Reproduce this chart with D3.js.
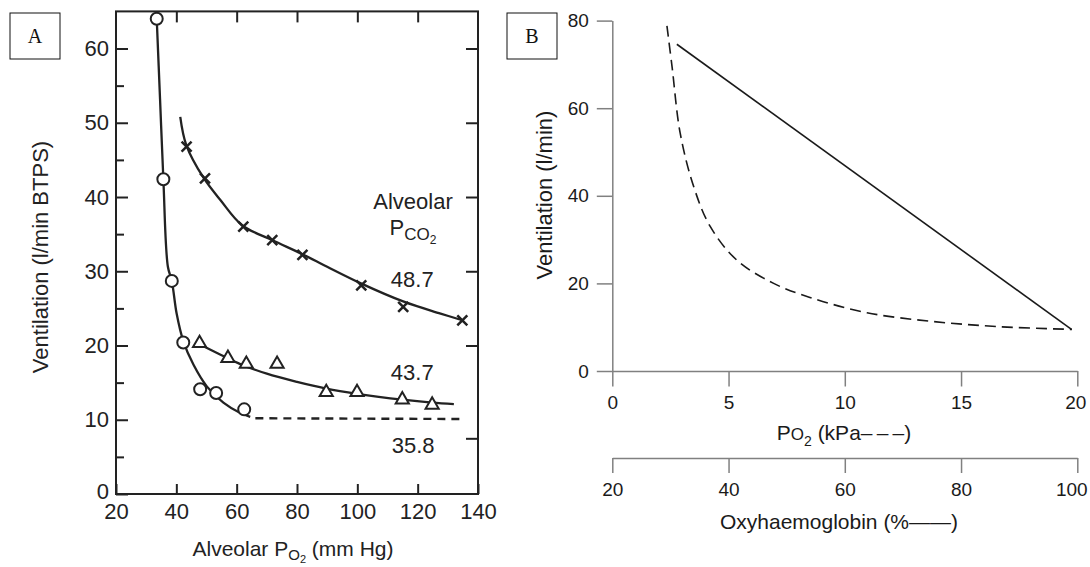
<!DOCTYPE html>
<html>
<head>
<meta charset="utf-8">
<script src="https://cdn.jsdelivr.net/npm/d3@7"></script>
<style>
  body { margin: 0; background: #fff; }
  svg { display: block; font-family: "Liberation Sans", Arial, Helvetica, sans-serif; }
</style>
</head>
<body>
<script>
'use strict';

// ---- panel A data : ventilation vs alveolar PO2 at three alveolar PCO2 levels
var aXTicks = [20, 40, 60, 80, 100, 120, 140];
var aYTicks = [0, 10, 20, 30, 40, 50, 60];
var aYMinor = [5, 15, 25, 35, 45, 55];
var aRightTicks = [60, 50, 40, 30, 20, 7.5];

// PCO2 48.7 (crosses)
var crossPoints = [[43.4, 46.8], [49.5, 42.5], [62.2, 36.0], [71.8, 34.2], [81.8, 32.2],
                   [101.3, 28.1], [115.2, 25.2], [134.8, 23.4]];
var crossCurve = [[41.3, 50.8], [43.3, 47.0], [49, 42.6], [54.6, 39.6], [61.8, 36.2],
                  [71.7, 34.2], [81.8, 32.3], [90, 30.6], [101, 28.4], [115.4, 25.9],
                  [127.6, 24.3], [134.8, 23.4]];
// PCO2 43.7 (triangles)
var trianglePoints = [[47.7, 20.3], [57.1, 18.3], [63.2, 17.5], [73.4, 17.5], [89.7, 13.7],
                      [99.9, 13.7], [114.9, 12.7], [124.8, 12.0]];
var triangleCurve = [[48.5, 20.0], [55, 18.7], [61.2, 17.5], [70, 16.2], [80, 15.1],
                     [89.7, 14.2], [99.9, 13.5], [114.9, 12.7], [124.8, 12.3], [132, 12.1]];
// PCO2 35.8 (circles)
var circlePoints = [[33.5, 64], [35.7, 42.4], [38.5, 28.7], [42.3, 20.4], [47.9, 14.1],
                    [53.2, 13.6], [62.5, 11.4]];
var circleCurve = [[33.5, 64], [34.6, 53.2], [35.7, 42.4], [37.2, 30.6], [38.5, 28.7],
                   [40.1, 24.3], [42.3, 20.6], [45.7, 17.4], [50.1, 14.5], [55.6, 12.3],
                   [61.2, 10.9], [64.5, 10.4]];
var circlePlateau = [[66.2, 10.2], [135.3, 10.1]];
var co2Labels = ["48.7", "43.7", "35.8"];
var co2LabelAt = [[118.2, 27.9], [118.2, 15.3], [118.5, 5.5]]; // [PO2, ventilation] where text sits

// ---- panel B data : ventilation vs PO2 (kPa, dashed) and oxyhaemoglobin (%, solid)
var bYTicks = [0, 20, 40, 60, 80];
var kpaTicks = [0, 5, 10, 15, 20];
var satTicks = [20, 40, 60, 80, 100];
var kpaCurve = [[2.35, 78.8], [2.57, 69.5], [2.92, 54.3], [3.5, 42.1], [4.21, 33.0],
                [5.36, 25.3], [6.94, 20.0], [8.5, 16.8], [10.95, 13.3], [13.8, 11.3],
                [16.7, 10.1], [19.77, 9.5]];
var satLine = [[31.1, 74.6], [99.0, 9.5]];

var svg = d3.select("body").append("svg")
    .attr("width", 1090)
    .attr("height", 567);

var ink = "#222";

// label boxes
function panelBox(x, letter) {
  svg.append("rect")
      .attr("x", x).attr("y", 13)
      .attr("width", 50).attr("height", 46)
      .attr("fill", "#fff").attr("stroke", "#111").attr("stroke-width", 1);
  svg.append("text")
      .attr("x", x + 25).attr("y", 43)
      .attr("text-anchor", "middle")
      .style("font-family", "'Liberation Serif', 'Times New Roman', serif")
      .style("font-size", "20px")
      .attr("fill", "#111")
      .text(letter);
}
panelBox(10, "A");
panelBox(507, "B");

// ================= panel A =================
var ax = d3.scaleLinear().domain([20, 140]).range([116, 478]);
var ay = d3.scaleLinear().domain([0, 65]).range([494, 11.4]);

var gA = svg.append("g");

function styleAxis(g, col, w) {
  g.select(".domain").remove();
  g.selectAll(".tick line").attr("stroke", col).attr("stroke-width", w);
  g.selectAll(".tick text").attr("fill", ink);
}

var aLeft = gA.append("g").attr("transform", "translate(" + ax(20) + ",0)")
    .call(d3.axisLeft(ay).tickValues(aYTicks).tickSize(-12).tickPadding(7).tickFormat(d3.format("d")));
styleAxis(aLeft, ink, 2);
aLeft.selectAll("text").style("font-size", "22px");
// the "0" label sits a little higher so it clears the "20" below it
aLeft.selectAll(".tick text").filter(function(d) { return d === 0; }).attr("dy", "0.2em");

var aLeftMinor = gA.append("g").attr("transform", "translate(" + ax(20) + ",0)")
    .call(d3.axisLeft(ay).tickValues(aYMinor).tickSize(-8).tickFormat(""));
styleAxis(aLeftMinor, ink, 2);

var aRight = gA.append("g").attr("transform", "translate(" + ax(140) + ",0)")
    .call(d3.axisRight(ay).tickValues(aRightTicks).tickSize(-12).tickFormat(""));
styleAxis(aRight, ink, 2);

var aBottom = gA.append("g").attr("transform", "translate(0," + ay(0) + ")")
    .call(d3.axisBottom(ax).tickValues(aXTicks).tickSize(-10).tickPadding(9).tickFormat(d3.format("d")));
styleAxis(aBottom, ink, 2);
aBottom.selectAll("text").style("font-size", "22px");

var aTop = gA.append("g").attr("transform", "translate(0," + ay(65) + ")")
    .call(d3.axisTop(ax).tickValues(aXTicks.slice(1, -1)).tickSize(-11).tickFormat(""));
styleAxis(aTop, ink, 2);

// frame
gA.append("rect")
    .attr("x", ax(20)).attr("y", ay(65))
    .attr("width", ax(140) - ax(20)).attr("height", ay(0) - ay(65))
    .attr("fill", "none").attr("stroke", ink).attr("stroke-width", 2);

var aLine = d3.line()
    .x(function(d) { return ax(d[0]); })
    .y(function(d) { return ay(d[1]); })
    .curve(d3.curveCatmullRom.alpha(0.5));

[crossCurve, triangleCurve, circleCurve].forEach(function(c) {
  gA.append("path").datum(c)
      .attr("d", aLine)
      .attr("fill", "none").attr("stroke", ink).attr("stroke-width", 2.3);
});
gA.append("path").datum(circlePlateau)
    .attr("d", aLine)
    .attr("fill", "none").attr("stroke", ink).attr("stroke-width", 2.4)
    .attr("stroke-dasharray", "8,6");

// markers
gA.selectAll(".cross")
    .data(crossPoints)
  .enter().append("path")
    .attr("class", "cross")
    .attr("transform", function(d) { return "translate(" + ax(d[0]) + "," + ay(d[1]) + ")"; })
    .attr("d", "M-5,-5L5,5M-5,5L5,-5")
    .attr("stroke", ink).attr("stroke-width", 2.5);

gA.selectAll(".tri")
    .data(trianglePoints)
  .enter().append("path")
    .attr("class", "tri")
    .attr("transform", function(d) { return "translate(" + ax(d[0]) + "," + ay(d[1]) + ")"; })
    .attr("d", d3.symbol().type(d3.symbolTriangle).size(75))
    .attr("fill", "#fff").attr("stroke", ink).attr("stroke-width", 2);

gA.selectAll(".circ")
    .data(circlePoints)
  .enter().append("circle")
    .attr("class", "circ")
    .attr("cx", function(d) { return ax(d[0]); })
    .attr("cy", function(d) { return ay(d[1]); })
    .attr("r", 6)
    .attr("fill", "#fff").attr("stroke", ink).attr("stroke-width", 2);

// legend text inside panel A
var legA = gA.append("g").attr("fill", ink).style("font-size", "22px").attr("text-anchor", "middle");
legA.append("text").attr("x", 413).attr("y", 209).text("Alveolar");
var pco2 = legA.append("text").attr("x", 413).attr("y", 235);
pco2.append("tspan").text("P");
pco2.append("tspan").attr("dy", 5).style("font-size", "17px").text("CO");
pco2.append("tspan").attr("dy", 4).style("font-size", "12px").text("2");
legA.selectAll(".co2")
    .data(co2Labels)
  .enter().append("text")
    .attr("class", "co2")
    .attr("x", function(d, i) { return ax(co2LabelAt[i][0]); })
    .attr("y", function(d, i) { return ay(co2LabelAt[i][1]); })
    .text(function(d) { return d; });

// axis titles panel A
var aXTitle = gA.append("text")
    .attr("x", 293).attr("y", 556)
    .attr("text-anchor", "middle")
    .attr("fill", ink).style("font-size", "21px");
aXTitle.append("tspan").text("Alveolar P");
aXTitle.append("tspan").attr("dy", 4).style("font-size", "15px").text("O");
aXTitle.append("tspan").attr("dy", 3).style("font-size", "11px").text("2");
aXTitle.append("tspan").attr("dy", -7).text(" (mm Hg)");

gA.append("text")
    .attr("transform", "translate(48,257) rotate(-90)")
    .attr("text-anchor", "middle")
    .attr("fill", ink).style("font-size", "22px")
    .text("Ventilation (l/min BTPS)");

// ================= panel B =================
var bxK = d3.scaleLinear().domain([0, 20]).range([612.3, 1077.3]);
var bxS = d3.scaleLinear().domain([20, 100]).range([612.3, 1077.3]);
var by = d3.scaleLinear().domain([0, 80]).range([371, 20.6]);

var gB = svg.append("g");
var axisCol = "#808080";

function styleB(g) {
  g.select(".domain").attr("stroke", axisCol).attr("stroke-width", 1.5);
  g.selectAll(".tick line").attr("stroke", axisCol).attr("stroke-width", 1.5);
  g.selectAll(".tick text").attr("fill", "#1a1a1a").style("font-size", "19px")
      .style("font-family", "'Liberation Sans', Arial, sans-serif");
}

var bLeft = gB.append("g").attr("transform", "translate(" + bxK(0) + ",0)")
    .call(d3.axisLeft(by).tickValues(bYTicks).tickSize(15.5).tickSizeOuter(0).tickPadding(8));
styleB(bLeft);

var bBottom = gB.append("g").attr("transform", "translate(0," + by(0) + ")")
    .call(d3.axisBottom(bxK).tickValues(kpaTicks).tickSize(15.5).tickSizeOuter(0).tickPadding(9));
styleB(bBottom);

var bSat = gB.append("g").attr("transform", "translate(0,458)")
    .call(d3.axisBottom(bxS).tickValues(satTicks).tickSize(15).tickSizeOuter(0).tickPadding(10));
styleB(bSat);
// last labels sit a little inside the right edge, as in the source figure
bBottom.selectAll(".tick text").filter(function(d) { return d === 20; }).attr("dx", -2);
bSat.selectAll(".tick text").filter(function(d) { return d === 100; }).attr("dx", -6);

var bLine = d3.line()
    .x(function(d) { return bxK(d[0]); })
    .y(function(d) { return by(d[1]); })
    .curve(d3.curveCatmullRom.alpha(0.5));
gB.append("path").datum(kpaCurve)
    .attr("d", bLine)
    .attr("fill", "none").attr("stroke", "#1a1a1a").attr("stroke-width", 1.6)
    .attr("stroke-dasharray", "11,6");

var sLine = d3.line()
    .x(function(d) { return bxS(d[0]); })
    .y(function(d) { return by(d[1]); });
gB.append("path").datum(satLine)
    .attr("d", sLine)
    .attr("fill", "none").attr("stroke", "#1a1a1a").attr("stroke-width", 1.6);

// titles panel B
gB.append("text")
    .attr("transform", "translate(552,195) rotate(-90)")
    .attr("text-anchor", "middle")
    .attr("fill", "#1a1a1a").style("font-size", "22px")
    .text("Ventilation (l/min)");

var kTitle = gB.append("text")
    .attr("x", 844).attr("y", 440)
    .attr("text-anchor", "middle")
    .attr("fill", "#1a1a1a").style("font-size", "21px");
kTitle.append("tspan").text("P");
kTitle.append("tspan").style("font-size", "17px").text("O");
kTitle.append("tspan").attr("dy", 6).style("font-size", "14px").text("2");
kTitle.append("tspan").attr("dy", -6).text(" (kPa\u2013\u2009\u2013\u2009\u2013)");

gB.append("text")
    .attr("x", 839).attr("y", 529)
    .attr("text-anchor", "middle")
    .attr("fill", "#1a1a1a").style("font-size", "21px")
    .text("Oxyhaemoglobin (%\u2014\u2014)");
</script>
</body>
</html>
